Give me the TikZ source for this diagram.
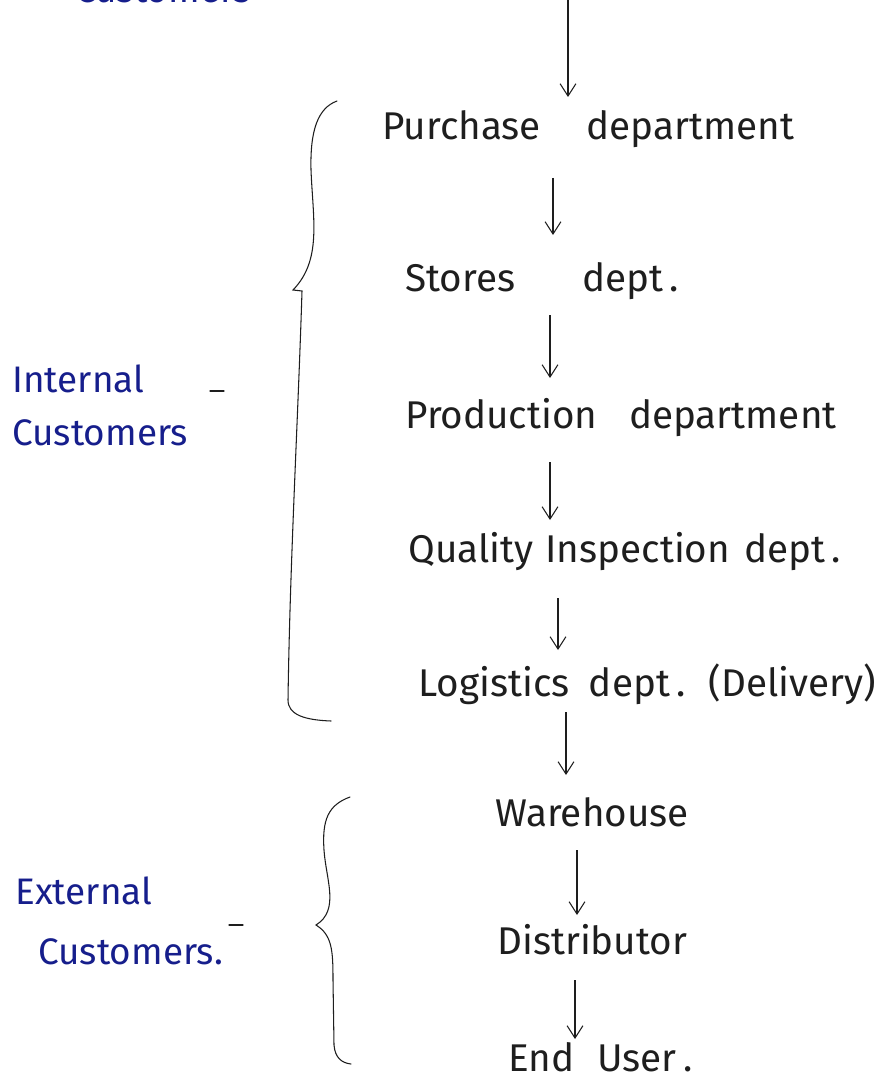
\documentclass[tikz,border=0pt]{standalone}
\usepackage{fontspec}
\setmainfont{Fira Sans}
\usetikzlibrary{arrows.meta,calc}
\definecolor{ink}{RGB}{30,30,30}
\definecolor{blueink}{RGB}{22,30,140}
\begin{document}
\begin{tikzpicture}[x=0.02cm,y=-0.02cm,
  item/.style={inner sep=0pt,anchor=base west,text=ink,font=\fontsize{22}{26}\selectfont},
  side/.style={inner sep=0pt,anchor=base west,text=blueink,font=\fontsize{21}{25}\selectfont},
  flow/.style={draw=ink,line width=0.6pt,-{Straight Barb[length=7pt,width=9pt]}},
  brace/.style={draw=ink,line width=0.6pt,line cap=round}]
\useasboundingbox[fill=white] (0,0) rectangle (895,1084);

% column positions of the flow arrows
\coordinate (c0) at (568,-30);
\coordinate (c1) at (553,0);
\coordinate (c2) at (550,0);
\coordinate (c3) at (550,0);
\coordinate (c4) at (558,0);
\coordinate (c5) at (566,0);
\coordinate (c6) at (577,0);
\coordinate (c7) at (575,0);

% heading partly above the sheet
\node[side] (cust) at (75,3) {Customers};

% flow of departments
\node[item] (pur) at (382,140) {Purchase\hspace{26pt}department};
\node[item] (sto) at (405,292) {Stores\hspace{38pt}dept\,.};
\node[item] (pro) at (405,428) {Production\hspace{18pt}department};
\node[item] (qua) at (408,562) {Quality\hspace{7pt}Inspection\hspace{8pt}dept\,.};
\node[item] (log) at (418,696) {Logistics\hspace{11pt}dept\,.\hspace{13pt}(Delivery)};
\node[item] (war) at (495,826) {Warehouse};
\node[item] (dis) at (497,954) {Distributor};
\node[item] (end) at (508,1071) {End\hspace{13pt}User\,.};

% arrows between the steps
\draw[flow] (c0) -- ($(pur.base -| c0)+(0,-43)$);
\draw[flow] ($(pur.base -| c1)+(0,38)$) -- ($(sto.base -| c1)+(0,-57)$);
\draw[flow] ($(sto.base -| c2)+(0,23)$) -- ($(pro.base -| c2)+(0,-50)$);
\draw[flow] ($(pro.base -| c3)+(0,34)$) -- ($(qua.base -| c3)+(0,-42)$);
\draw[flow] ($(qua.base -| c4)+(0,36)$) -- ($(log.base -| c4)+(0,-46)$);
\draw[flow] ($(log.base -| c5)+(0,16)$) -- ($(war.base -| c5)+(0,-51)$);
\draw[flow] ($(war.base -| c6)+(0,24)$) -- ($(dis.base -| c6)+(0,-39)$);
\draw[flow] ($(dis.base -| c7)+(0,26)$) -- ($(end.base -| c7)+(0,-32)$);

% group labels
\node[side] (int1) at (12,392) {Internal};
\node[side] (int2) at (12,445) {Customers};
\node[side] (ext1) at (15,904) {External};
\node[side] (ext2) at (38,964) {Customers.};
\draw[brace] (210,391) -- (224,391);
\draw[brace] (229,925) -- (243,925);

% curly braces
\draw[brace] (337,101) .. controls (318,108) and (310,130) .. (311,170)
  .. controls (313,220) and (322,260) .. (293,290)
  -- (302,291) .. controls (298,420) and (290,560) .. (288,700)
  .. controls (288,715) and (305,720) .. (331,721);
\draw[brace] (350,797) .. controls (328,805) and (322,820) .. (324,850)
  .. controls (326,880) and (340,910) .. (316,925)
  .. controls (332,935) and (333,950) .. (333,980)
  -- (334,1045) .. controls (335,1058) and (342,1063) .. (351,1064);
\end{tikzpicture}
\end{document}
